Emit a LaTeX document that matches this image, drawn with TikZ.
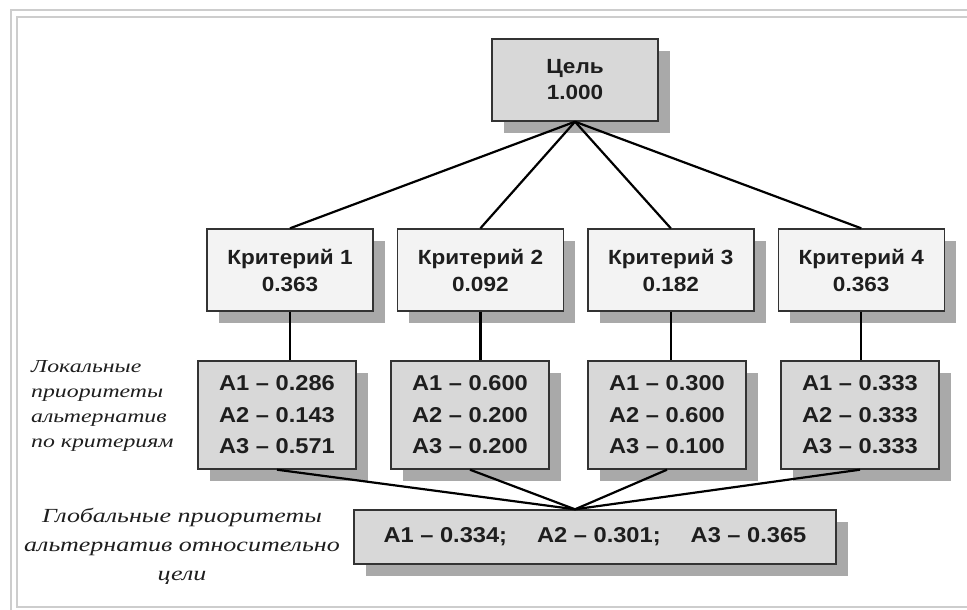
\documentclass[tikz,border=0pt]{standalone}
\usepackage{fontspec}
\setmainfont{Liberation Sans}
\newfontfamily\boxfont{Liberation Sans}[FakeStretch=1.1]
\newfontfamily\notefont{Liberation Serif}[FakeStretch=1.3]
\usepackage{tikz}
\usetikzlibrary{positioning, shadows}
\definecolor{boxgray}{HTML}{D8D8D8}
\definecolor{critfill}{HTML}{F3F3F3}
\definecolor{shadowgray}{HTML}{A9A9A9}
\definecolor{edgegray}{HTML}{333333}
\definecolor{textgray}{HTML}{1E1E1E}
\definecolor{framegray}{HTML}{CDCDCD}
\tikzset{
box/.style={
  draw=edgegray,
  line width=1.4pt,
  rectangle,
  inner sep=0pt,
  align=center,
  text=textgray,
  drop shadow={shadow xshift=12pt, shadow yshift=-12pt, fill=shadowgray, opacity=1}
  },
goalbox/.style={box, fill=boxgray, minimum width=166pt, minimum height=82pt,
  font=\boxfont\bfseries\fontsize{20.5}{26}\selectfont},
critbox/.style={box, fill=critfill, minimum width=166pt, minimum height=82pt,
  font=\boxfont\bfseries\fontsize{20.5}{27}\selectfont},
altbox/.style={box, fill=boxgray, minimum width=158pt, minimum height=108pt,
  font=\boxfont\bfseries\fontsize{21.5}{31.5}\selectfont},
globbox/.style={box, fill=boxgray, minimum width=482pt, minimum height=54pt,
  font=\boxfont\bfseries\fontsize{21.5}{25}\selectfont},
note/.style={inner sep=0pt, text=textgray},
line/.style={draw=black, line width=2.2pt}
}
\begin{document}
\begin{tikzpicture}[x=1pt, y=-1pt]
\useasboundingbox (0,0) rectangle (967,610);
% frame
\draw[framegray, line width=1.2pt] (967,10) -- (11,10) -- (11,610);
\draw[framegray, line width=1.2pt] (967,17) -- (17,17) -- (17,607) -- (967,607);

\node[goalbox] (goal) at (575,80) {Цель\\1.000};

\node[critbox] (crit1) at (290,270) {Критерий 1\\0.363};
\node[critbox, right=23pt of crit1] (crit2) {Критерий 2\\0.092};
\node[critbox, right=23pt of crit2] (crit3) {Критерий 3\\0.182};
\node[critbox, right=23pt of crit3] (crit4) {Критерий 4\\0.363};

\node[altbox] (alt1) at (277,415) {A1 – 0.286\\A2 – 0.143\\A3 – 0.571};
\node[altbox] (alt2) at (470,415) {A1 – 0.600\\A2 – 0.200\\A3 – 0.200};
\node[altbox] (alt3) at (667,415) {A1 – 0.300\\A2 – 0.600\\A3 – 0.100};
\node[altbox] (alt4) at (860,415) {A1 – 0.333\\A2 – 0.333\\A3 – 0.333};

\node[globbox] (glob) at (595,537) {A1 – 0.334;\hspace{30pt}A2 – 0.301;\hspace{30pt}A3 – 0.365};
\coordinate (conv) at (glob.north -| goal.south);

\node[note, anchor=west, align=left,
  font=\notefont\itshape\fontsize{18.3}{25}\selectfont] (locnote) at (31,406)
  {Локальные\\приоритеты\\альтернатив\\по критериям};
\node[note, align=center,
  font=\notefont\itshape\fontsize{20}{29}\selectfont] (globnote) at (182,546)
  {Глобальные приоритеты\\альтернатив относительно\\цели};

% connectors
\foreach \i in {1,...,4} {
  \draw[line] (goal.south) -- (crit\i.north);
  \draw[line] (crit\i.south) -- (crit\i.south |- alt\i.north);
  \draw[line] (alt\i.south) -- (conv);
}
\end{tikzpicture}
\end{document}
